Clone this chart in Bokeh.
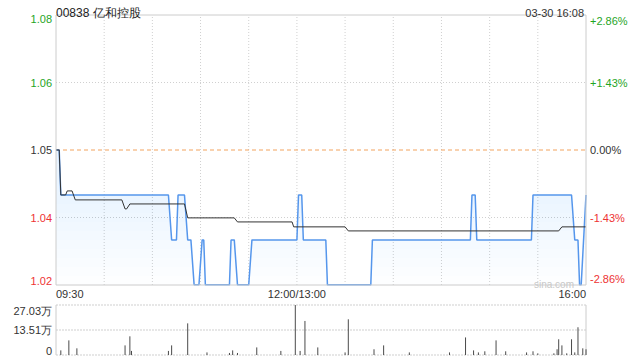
import numpy as np
from bokeh.plotting import figure
from bokeh.models import Range1d
from bokeh.core.properties import value
from bokeh.embed import file_html
from bokeh.resources import INLINE

# ---------------- data ----------------
title_text = "00838 亿和控股"
stamp_text = "03-30 16:08"
watermark_text = "sina.com"

prev_close = 1.05
pct_levels = [0.0286, 0.0143, 0.0, -0.0143, -0.0286]
price_tick_labels = ["1.08", "1.06", "1.05", "1.04", "1.02"]
pct_tick_labels = ["+2.86%", "+1.43%", "0.00%", "-1.43%", "-2.86%"]

session_minutes = 330          # 09:30-12:00 + 13:00-16:00
grid_step_minutes = 30
time_tick_minutes = [0, 150, 330]
time_tick_labels = ["09:30", "12:00/13:00", "16:00"]

# price: runs of constant price (start minute, end minute, price)
price_run_start = [0, 3, 72, 76, 82, 86, 91, 93, 109, 113, 122, 151, 154, 169, 197, 259, 262, 297, 323, 326, 330]
price_run_end   = [2, 70, 75, 80, 84, 89, 92, 108, 111, 120, 150, 153, 168, 196, 258, 261, 296, 321, 325, 327, 330]
price_run_value = [1.05, 1.04, 1.03, 1.04, 1.03, 1.02, 1.03, 1.02, 1.03, 1.02, 1.03, 1.04, 1.03, 1.02, 1.03, 1.04, 1.03, 1.04, 1.03, 1.02, 1.04]

# average price: runs
avg_run_start = [0, 3, 7, 12, 43, 46, 82, 113, 148, 182, 315]
avg_run_end   = [2, 6, 10, 41, 44, 80, 111, 147, 180, 313, 330]
avg_run_value = [1.05, 1.0400, 1.0409, 1.0389, 1.0369, 1.0380, 1.0349, 1.0340, 1.0329, 1.0320, 1.0329]

# volume (万股) per minute
vol_minutes = [3, 8, 13, 43, 46, 47, 70, 72, 82, 94, 108, 110, 113, 125, 140, 149, 152, 155, 163,
               180, 182, 198, 204, 220, 245, 255, 260, 263, 267, 274, 280, 293, 297, 300, 310,
               312, 313, 315, 318, 321, 323, 325, 328, 330]
vol_values = [2.5, 7.9, 3.6, 5.2, 10.1, 2.2, 2.2, 5.2, 17.1, 1.4, 1.1, 2.5, 1.1, 4.1, 2.2, 27.0, 2.2, 18.4, 4.1,
              1.4, 19.3, 3.1, 5.2, 1.4, 1.4, 9.5, 2.5, 1.4, 2.0, 7.9, 2.0, 1.4, 2.0, 0.9, 0.9,
              3.1, 8.5, 5.2, 0.9, 8.5, 1.4, 15.0, 3.6, 3.1]
vol_tick_values = [0, 13.51, 27.03]
vol_tick_labels = ["0", "13.51万", "27.03万"]

# ---------------- style / layout ----------------
FONT = "Liberation Sans"
GREEN = "#1fa51f"
RED = "#ee3333"
DARK = "#333333"
BORDER = "#cccccc"
GRID = "#d0d0d0"
BLUE = "#5596ec"
ORANGE = "#f2a35e"
tick_colors = [GREEN, GREEN, DARK, RED, RED]

W, H = 640, 360
# pixel placement of the chart areas (measured from the top-left of the canvas)
X0, XW = 55.5, 530.0
MAIN_TOP, MAIN_BOT = 14.5, 284.5
VOL_TOP, VOL_BOT = 304.5, 354.5

tick_values = [prev_close * (1 + q) for q in pct_levels]
y_top, y_bot = tick_values[0], tick_values[-1]

ppm = XW / session_minutes
x_start = -X0 / ppm
x_end = x_start + W / ppm
ky = (y_top - y_bot) / (MAIN_BOT - MAIN_TOP)
y_start = y_bot - (H - MAIN_BOT) * ky
y_end = y_top + MAIN_TOP * ky
vmax = vol_tick_values[-1]
kv = vmax / (VOL_BOT - VOL_TOP)
v_start = 0 - (H - VOL_BOT) * kv
v_end = vmax + VOL_TOP * kv

p = figure(width=W, height=H, x_range=Range1d(x_start, x_end), y_range=Range1d(y_start, y_end),
           x_axis_location=None, y_axis_location=None, toolbar_location=None,
           output_backend="svg", min_border=0)
p.extra_y_ranges = {"vol": Range1d(v_start, v_end)}
p.grid.visible = False
p.outline_line_color = None
p.background_fill_color = "white"
p.border_fill_color = "white"


def runs_to_xy(starts, ends, vals):
    xs, ys = [], []
    for s, e, v in zip(starts, ends, vals):
        xs += [s, e]
        ys += [v, v]
    return np.array(xs, dtype=float), np.array(ys, dtype=float)


def draw_text(x, y, text, color, align, baseline, size="11px", xo=0, yo=0, rng=None):
    kw = {"y_range_name": rng} if rng else {}
    p.text(x=[x], y=[y], text=[text], text_color=color, text_align=align,
           text_baseline=baseline, text_font=value(FONT), text_font_size=size,
           x_offset=xo, y_offset=yo, **kw)


# ---------------- main chart ----------------
grid_x = list(range(grid_step_minutes, session_minutes, grid_step_minutes))
p.segment(x0=grid_x, y0=y_bot, x1=grid_x, y1=y_top, line_color=GRID, line_dash="1 2", line_width=1)
p.segment(x0=0, y0=[tick_values[1], tick_values[3]], x1=session_minutes,
          y1=[tick_values[1], tick_values[3]], line_color=GRID, line_dash="1 2", line_width=1)

px, py = runs_to_xy(price_run_start, price_run_end, price_run_value)
ax, ay = runs_to_xy(avg_run_start, avg_run_end, avg_run_value)

# soft vertical gradient under the price line
for lv in np.linspace(y_bot, 1.04, 10, endpoint=False):
    p.varea(x=px, y1=lv, y2=np.maximum(py, lv), fill_color="#4a8fe8", fill_alpha=0.011)

p.segment(x0=0, y0=prev_close, x1=session_minutes, y1=prev_close,
          line_color=ORANGE, line_dash="4 3", line_width=1)

p.line(px, py, line_color=BLUE, line_width=1.5)
p.line(ax, ay, line_color=DARK, line_width=1)

p.quad(left=0, right=session_minutes, bottom=y_bot, top=y_top,
       fill_color=None, line_color=BORDER, line_width=1)

n = len(tick_values)
for i, (tv, lab, plab, col) in enumerate(zip(tick_values, price_tick_labels, pct_tick_labels, tick_colors)):
    bl = "top" if i == 0 else ("bottom" if i == n - 1 else "middle")
    draw_text(0, tv, lab, col, "right", bl, xo=-4)
    draw_text(session_minutes, tv, plab, col, "left", bl, xo=4)

for m, lab, al in zip(time_tick_minutes, time_tick_labels, ["left", "center", "right"]):
    draw_text(m, y_bot, lab, DARK, al, "top", yo=3)

draw_text(0, y_top, title_text, "#222222", "left", "alphabetic", size="12px", yo=-2)
draw_text(session_minutes, y_top, stamp_text, DARK, "right", "alphabetic", xo=-2, yo=-2)
draw_text(session_minutes, y_bot, watermark_text, "#c8c8c8", "right", "alphabetic",
          size="10px", xo=-12, yo=-1)

# ---------------- volume chart ----------------
p.segment(x0=0, y0=vol_tick_values, x1=session_minutes, y1=vol_tick_values,
          line_color="#cfcfcf", line_dash="2 1", line_width=1, y_range_name="vol")
p.segment(x0=[0, session_minutes], y0=0, x1=[0, session_minutes], y1=vmax,
          line_color=BORDER, line_width=1, y_range_name="vol")
p.segment(x0=vol_minutes, y0=0, x1=vol_minutes, y1=vol_values,
          line_color="#4a4a4a", line_width=1, y_range_name="vol")

vn = len(vol_tick_values)
for i, (tv, lab) in enumerate(zip(vol_tick_values, vol_tick_labels)):
    bl = "bottom" if i == 0 else ("top" if i == vn - 1 else "middle")
    draw_text(0, tv, lab, DARK, "right", bl, xo=-4, rng="vol")

open("out.html", "w").write(file_html(p, INLINE))
